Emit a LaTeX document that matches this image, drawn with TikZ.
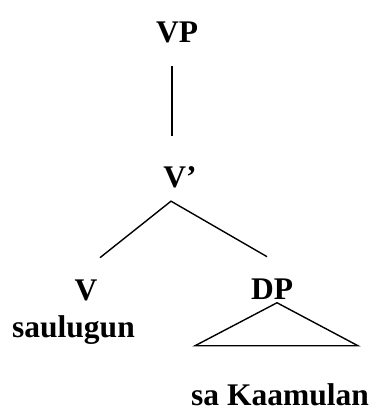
\documentclass[tikz,border=0pt]{standalone}
\usepackage{fontspec}
\setmainfont{Liberation Serif}
\usepackage{tikz}

\tikzset{cat/.style={anchor=base,inner sep=0pt,font=\fontsize{31.5}{36}\selectfont\bfseries}}

\begin{document}
\begin{tikzpicture}[x=1pt,y=-1pt,line width=1.4pt]
\useasboundingbox (0,0) rectangle (369,411);
\node[cat](vp) at (177,43){VP};
\node[cat](vbar) at (180,188){V’};
\node[cat](v) at (86,300){V};
\node[cat](saulugun) at (73.5,337){saulugun};
\node[cat](dp) at (272,299){DP};
\node[cat](kaamulan) at (280,405){sa Kaamulan};
\coordinate (vbar-foot) at ([xshift=-9pt,yshift=-12pt]vbar.south);
\coordinate (dp-foot) at ([xshift=5pt,yshift=-3pt]dp.south);
\draw([xshift=-5pt,yshift=-22pt]vp.south)--([xshift=-8pt,yshift=30pt]vbar.north);
\draw([xshift=14pt,yshift=21pt]v.north)--(vbar-foot)--([xshift=-5pt,yshift=21pt]dp.north);
\draw(dp-foot)--++(-82,43)--++(163,0)--cycle;
\end{tikzpicture}
\end{document}
